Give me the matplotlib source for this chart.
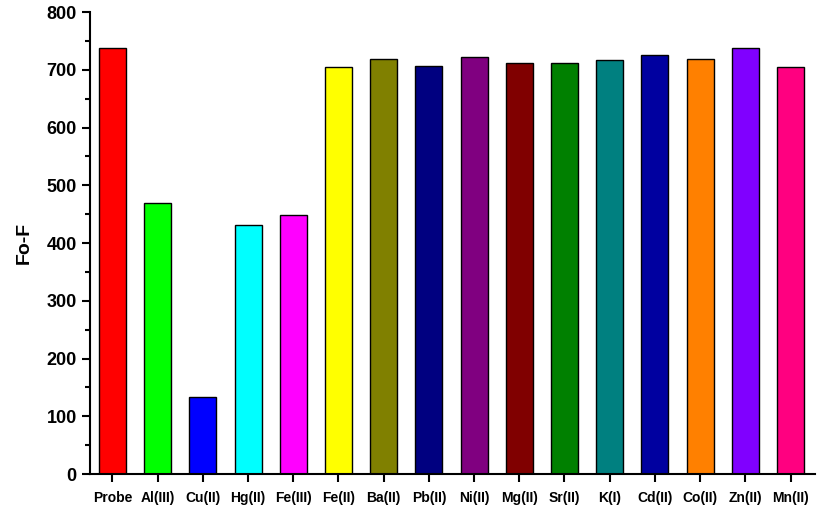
import matplotlib
matplotlib.use('Agg')
import matplotlib.pyplot as plt
from matplotlib.ticker import MultipleLocator

plt.rcParams['font.family'] = ['Liberation Sans', 'DejaVu Sans']
plt.rcParams['font.weight'] = 'bold'

ions = ['Probe', 'Al(III)', 'Cu(II)', 'Hg(II)', 'Fe(III)', 'Fe(II)', 'Ba(II)', 'Pb(II)',
        'Ni(II)', 'Mg(II)', 'Sr(II)', 'K(I)', 'Cd(II)', 'Co(II)', 'Zn(II)', 'Mn(II)']
fo_f = [738, 469, 133, 431, 448, 705, 719, 707, 722, 712, 712, 717, 725, 719, 738, 705]
colors = ['#FF0000', '#00FF00', '#0000FF', '#00FFFF', '#FF00FF', '#FFFF00', '#808000', '#000080',
          '#800080', '#800000', '#008000', '#008080', '#0000A0', '#FF8000', '#8000FF', '#FF0080']

fig = plt.figure(figsize=(8.17, 5.11), dpi=100)
ax = fig.add_axes([0.110, 0.0724, 0.888, 0.904])

x = range(len(ions))
ax.bar(x, fo_f, width=0.6, color=colors, edgecolor='black', linewidth=1.0)

ax.set_xlim(-0.5, len(ions) - 0.45)
ax.set_ylim(0, 800)
ax.set_xticks(list(x))
ax.set_xticklabels(ions, fontsize=10, fontweight='bold')
ax.yaxis.set_major_locator(MultipleLocator(100))
ax.yaxis.set_minor_locator(MultipleLocator(50))
for lab in ax.get_yticklabels():
    lab.set_fontsize(13)
    lab.set_fontweight('bold')
ax.set_ylabel('Fo-F', fontsize=14, fontweight='bold', labelpad=10)

for s in ['top', 'right']:
    ax.spines[s].set_visible(False)
for s in ['left', 'bottom']:
    ax.spines[s].set_linewidth(1.5)
ax.tick_params(axis='both', which='major', direction='out', length=6, width=1.5)
ax.tick_params(axis='y', which='minor', direction='out', length=3.5, width=1.5)
ax.tick_params(axis='x', pad=6)

fig.savefig('out.png', dpi=100)
